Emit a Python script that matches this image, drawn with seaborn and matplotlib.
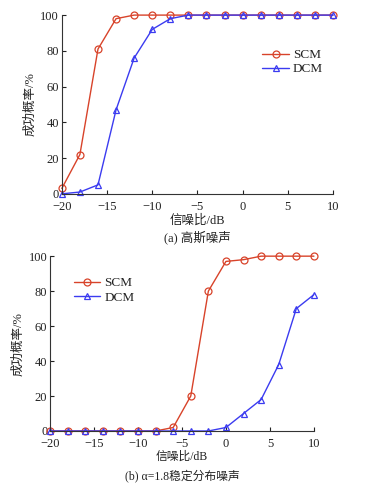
import numpy as np
import pandas as pd
import matplotlib
matplotlib.use("Agg")
import matplotlib.pyplot as plt
import seaborn as sns

# SNR values (dB)
snr = [-20, -18, -16, -14, -12, -10, -8, -6, -4, -2, 0, 2, 4, 6, 8, 10]

# (a) Gaussian noise
scm_a = [3, 22, 81, 98, 100, 100, 100, 100, 100, 100, 100, 100, 100, 100, 100, 100]
dcm_a = [0, 1, 5, 47, 76, 92, 98, 100, 100, 100, 100, 100, 100, 100, 100, 100]

# (b) alpha=1.8 stable noise
scm_b = [0, 0, 0, 0, 0, 0, 0, 2, 20, 80, 97, 98, 100, 100, 100, 100]
dcm_b = [0, 0, 0, 0, 0, 0, 0, 0, 0, 0, 2, 10, 18, 38, 70, 78]

x_ticks = [-20, -15, -10, -5, 0, 5, 10]
y_ticks = [0, 20, 40, 60, 80, 100]

sns.set_style("ticks")
fam = ["Liberation Serif", "Noto Sans CJK SC", "DejaVu Sans"]
plt.rcParams["font.family"] = fam
plt.rcParams["xtick.direction"] = "in"
plt.rcParams["ytick.direction"] = "in"

red = "#d8432a"
blue = "#3b3bf0"
txt = "#222222"

fig = plt.figure(figsize=(3.68, 4.87), dpi=100)
ax1 = fig.add_axes([0.168, 0.602, 0.737, 0.367])
ax2 = fig.add_axes([0.136, 0.115, 0.717, 0.359])


def draw(ax, scm, dcm, legend_loc, xpad, xfs):
    df = pd.DataFrame({"snr": snr, "SCM": scm, "DCM": dcm})
    sns.lineplot(data=df, x="snr", y="SCM", ax=ax, color=red, lw=1.0,
                 marker="o", markersize=5, markerfacecolor="none",
                 markeredgecolor=red, markeredgewidth=0.9, label="SCM",
                 clip_on=False)
    sns.lineplot(data=df, x="snr", y="DCM", ax=ax, color=blue, lw=1.0,
                 marker="^", markersize=5, markerfacecolor="none",
                 markeredgecolor=blue, markeredgewidth=0.9, label="DCM",
                 clip_on=False)
    ax.set_xlim(-20, 10)
    ax.set_ylim(0, 100)
    ax.set_xticks(x_ticks)
    ax.set_yticks(y_ticks)
    ax.tick_params(labelsize=9, length=3, width=0.8, colors=txt)
    ax.tick_params(axis="x", pad=5)
    ax.tick_params(axis="y", pad=2)
    ax.set_xlabel("信噪比/dB", fontsize=xfs, labelpad=xpad, color=txt)
    ax.set_ylabel("成功概率/%", fontsize=9, labelpad=3, color=txt)
    sns.despine(ax=ax)
    for s in ax.spines.values():
        s.set_linewidth(0.8)
        s.set_color("#333333")
    leg = ax.legend(loc="upper left", bbox_to_anchor=legend_loc, frameon=False,
                    fontsize=9.5, handlelength=2.0, handletextpad=0.3,
                    borderaxespad=0.0, labelspacing=0.15)
    for t in leg.get_texts():
        t.set_color(txt)


draw(ax1, scm_a, dcm_a, (0.72, 0.84), 1, 9)
draw(ax2, scm_b, dcm_b, (0.07, 0.91), 0.5, 8.5)

fig.text(0.535, 1 - 237 / 487, "(a) 高斯噪声", ha="center", va="center",
         fontsize=9, color=txt)
fig.text(0.495, 1 - 476 / 487, "(b) α=1.8稳定分布噪声", ha="center", va="center",
         fontsize=8.5, color=txt)

fig.savefig("out.png", dpi=100)
